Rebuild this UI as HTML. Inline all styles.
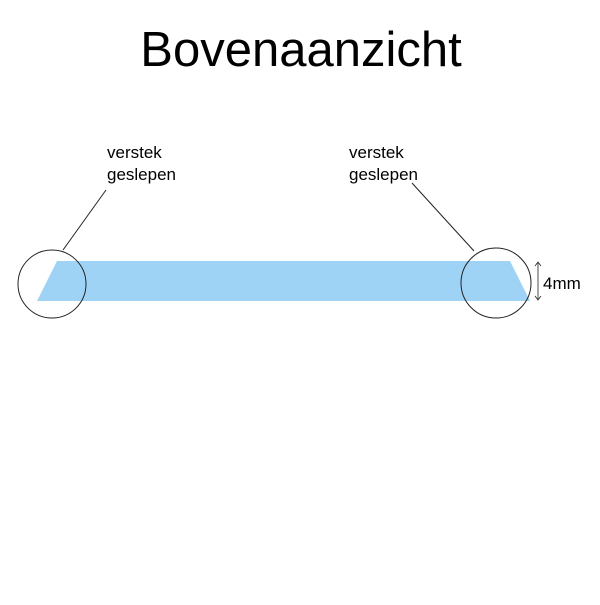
<!DOCTYPE html>
<html><head><style>
body{margin:0;background:#fff;width:600px;height:600px;overflow:hidden}
</style></head><body>
<svg width="600" height="600" xmlns="http://www.w3.org/2000/svg">
<text x="301" y="66" text-anchor="middle" font-family="Liberation Sans, sans-serif" font-size="49">Bovenaanzicht</text>
<polygon points="57,261 510,261 530,301 37,301" fill="#9fd3f6"/>
<circle cx="52" cy="284" r="34" fill="none" stroke="#222" stroke-width="1"/>
<circle cx="496" cy="283" r="35" fill="none" stroke="#222" stroke-width="1"/>
<line x1="106" y1="190" x2="63" y2="250" stroke="#222" stroke-width="1"/>
<line x1="412" y1="183" x2="474" y2="251" stroke="#222" stroke-width="1"/>
<g font-family="Liberation Sans, sans-serif" font-size="17" fill="#000">
<text x="107" y="158">verstek</text>
<text x="107" y="180">geslepen</text>
<text x="349" y="158">verstek</text>
<text x="349" y="180">geslepen</text>
<text x="543" y="289">4mm</text>
</g>
<line x1="538" y1="263" x2="538" y2="300" stroke="#222" stroke-width="0.8"/>
<polyline points="535,266 538,262 541,266" fill="none" stroke="#222" stroke-width="0.8"/>
<polyline points="535,296 538,300 541,296" fill="none" stroke="#222" stroke-width="0.8"/>
</svg>
</body></html>
